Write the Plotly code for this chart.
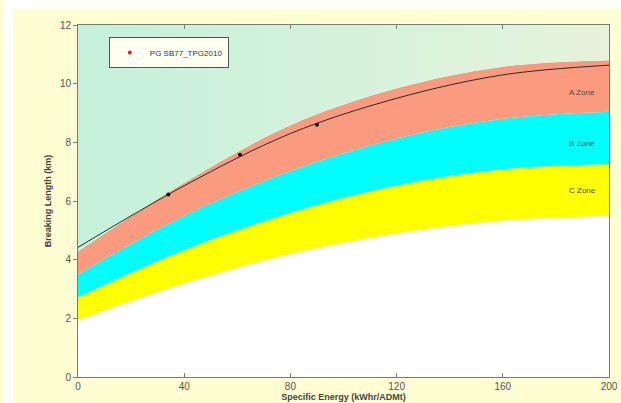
import plotly.graph_objects as go

# ---- data ----
zone_x = [0, 40, 80, 120, 160, 200]
a_top = [4.28, 6.62, 8.58, 9.84, 10.58, 10.8]
a_b_edge = [3.5, 5.5, 7.02, 8.13, 8.8, 9.04]
b_c_edge = [2.72, 4.33, 5.6, 6.53, 7.08, 7.26]
c_bottom = [1.95, 3.2, 4.2, 4.9, 5.34, 5.5]
y_top = [12, 12, 12, 12, 12, 12]

curve_x = [0, 40, 80, 120, 160, 200]
curve_y = [4.42, 6.52, 8.3, 9.5, 10.3, 10.63]

point_x = [34, 61, 90]
point_y = [6.22, 7.58, 8.6]

series_name = "PG SB77_TPG2010"
zone_labels = ["A Zone", "B Zone", "C Zone"]
zone_label_x = [190, 190, 190]
zone_label_y = [9.7, 7.95, 6.35]

x_ticks = [0, 40, 80, 120, 160, 200]
y_ticks = [0, 2, 4, 6, 8, 10, 12]

fig = go.Figure()
nolines = dict(width=0, shape="spline", smoothing=1.0)
fig.add_trace(go.Scatter(x=zone_x, y=c_bottom, mode="lines", line=nolines,
                         fill="tozeroy", fillcolor="#ffffff", showlegend=False, hoverinfo="skip"))
fig.add_trace(go.Scatter(x=zone_x, y=b_c_edge, mode="lines", line=nolines,
                         fill="tonexty", fillcolor="#ffff00", showlegend=False, hoverinfo="skip"))
fig.add_trace(go.Scatter(x=zone_x, y=a_b_edge, mode="lines", line=nolines,
                         fill="tonexty", fillcolor="#00ffff", showlegend=False, hoverinfo="skip"))
fig.add_trace(go.Scatter(x=zone_x, y=a_top, mode="lines", line=nolines,
                         fill="tonexty", fillcolor="#fa9a7e", showlegend=False, hoverinfo="skip"))
fig.add_trace(go.Scatter(x=zone_x, y=y_top, mode="lines", line=dict(width=0),
                         fill="tonexty",
                         fillgradient=dict(type="horizontal",
                                           colorscale=[[0, "#c4f1da"], [1, "#e7f3dc"]]),
                         showlegend=False, hoverinfo="skip"))
fig.add_trace(go.Scatter(x=curve_x, y=curve_y, mode="lines",
                         line=dict(color="#2a2a2a", width=1, shape="spline"),
                         showlegend=False))
fig.add_trace(go.Scatter(x=point_x, y=point_y, mode="markers",
                         marker=dict(color="#111111", size=4), showlegend=False))
fig.add_trace(go.Scatter(x=[None], y=[None], mode="markers", name=series_name,
                         marker=dict(color="#e0202a", size=4)))

for lab, lx, ly in zip(zone_labels, zone_label_x, zone_label_y):
    fig.add_annotation(x=lx, y=ly, text=lab, showarrow=False,
                       font=dict(family="Liberation Sans Narrow, Arial Narrow, Liberation Sans", size=8, color="#4a4a4a"))

# decorative white page strips (left and top)
fig.add_shape(type="rect", xref="paper", yref="paper", x0=-0.1412, x1=-0.1224,
              y0=-0.08, y1=1.08, fillcolor="white", line=dict(width=0), layer="below")
fig.add_shape(type="rect", xref="paper", yref="paper", x0=-0.1412, x1=1.03,
              y0=1.046, y1=1.08, fillcolor="white", line=dict(width=0), layer="below")

axis_font = dict(family="Liberation Sans Narrow, Liberation Sans", size=10, color="#555555")
fig.update_layout(
    width=621, height=403,
    margin=dict(l=78, r=12, t=25, b=26, autoexpand=False),
    paper_bgcolor="#fffdd2",
    plot_bgcolor="#ffffff",
    font=dict(family="Liberation Sans", color="#444444"),
    legend=dict(x=0.058, y=0.966, xanchor="left", yanchor="top",
                bgcolor="#fffff2", bordercolor="#555555", borderwidth=1,
                font=dict(family="Liberation Sans Narrow, Liberation Sans", size=8, color="#333333")),
    xaxis=dict(range=[0, 200], tickvals=x_ticks, showgrid=False, zeroline=False,
               automargin=False,
               showline=True, linecolor="#7a7a7a", linewidth=1, mirror="ticks",
               ticks="inside", ticklen=4, tickcolor="#7a7a7a", tickfont=axis_font,
               title=dict(text="<b>Specific Energy (kWhr/ADMt)</b>", standoff=2,
                          font=dict(family="Liberation Sans Narrow, Liberation Sans", size=9, color="#444444"))),
    yaxis=dict(range=[0, 12], tickvals=y_ticks, showgrid=False, zeroline=False,
               automargin=False,
               showline=True, linecolor="#7a7a7a", linewidth=1, mirror=True,
               ticks="outside", ticklen=4, tickcolor="#7a7a7a", tickfont=axis_font,
               title=dict(text="<b>Breaking Length (km)</b>", standoff=6,
                          font=dict(family="Liberation Sans Narrow, Liberation Sans", size=9, color="#444444"))),
)

fig.write_html(
    "out.html",
    config={"displayModeBar": False},
    post_script="document.body.style.margin='0';document.documentElement.style.overflow='hidden';document.body.style.overflow='hidden';",
)
